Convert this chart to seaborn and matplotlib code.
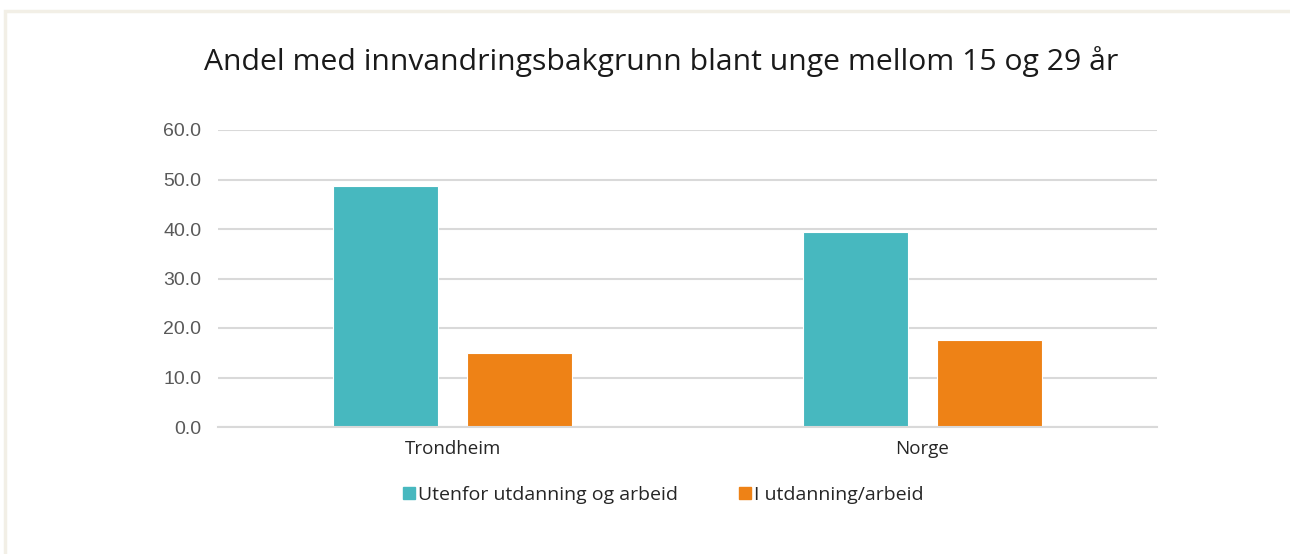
import matplotlib
matplotlib.use("Agg")
import matplotlib.pyplot as plt
import seaborn as sns
import pandas as pd
from matplotlib.patches import Rectangle
from matplotlib.lines import Line2D

categories = ["Trondheim", "Norge"]
series_names = ["Utenfor utdanning og arbeid", "I utdanning/arbeid"]
utenfor = [48.7, 39.4]
i_utdanning = [14.9, 17.6]
yticks = [0, 10, 20, 30, 40, 50, 60]
title = "Andel med innvandringsbakgrunn blant unge mellom 15 og 29 år"
colors = ["#47B8BF", "#EE8216"]

df = pd.DataFrame({
    "kategori": categories * 2,
    "serie": [series_names[0]] * 2 + [series_names[1]] * 2,
    "verdi": utenfor + i_utdanning,
})

sns.set_theme(style="white")
plt.rcParams["font.family"] = ["Open Sans", "DejaVu Sans"]

fig = plt.figure(figsize=(12.9, 5.54), dpi=100)
ax = fig.add_axes([218/1290, 1 - 427/554, (1157-218)/1290, (427-130)/554])

sns.barplot(data=df, x="kategori", y="verdi", hue="serie", palette=colors,
            width=0.57, gap=0.217, ax=ax, legend=False, saturation=1, linewidth=0.8)

ax.set_ylim(0, 60)
ax.set_xlim(-0.5, 1.5)
ax.set_yticks(yticks)
ax.set_yticklabels([f"{v:.1f}" for v in yticks], fontsize=14, color="#595959",
                   family=["Liberation Sans", "DejaVu Sans"])
ax.tick_params(axis="x", labelsize=13.5, colors="#262626", length=0, pad=9)
ax.tick_params(axis="y", length=0, pad=12)
ax.set_xlabel("")
ax.set_ylabel("")
ax.yaxis.grid(True, color="#D9D9D9", linewidth=1.5)
ax.set_axisbelow(True)
for s in ["top", "right", "left"]:
    ax.spines[s].set_visible(False)
ax.spines["bottom"].set_color("#D9D9D9")
ax.spines["bottom"].set_linewidth(1.5)

fig.text(661/1290, 1 - 62/554, title, ha="center", va="center", fontsize=21.7, color="#1a1a1a")

handles = [Line2D([0], [0], marker="s", linestyle="none", markersize=8.5,
                  markerfacecolor=c, markeredgecolor=c) for c in colors]
fig.legend(handles, series_names, loc="center", bbox_to_anchor=(662/1290, 1 - 495/554),
           ncol=2, frameon=False, fontsize=14, handletextpad=0.0, columnspacing=3.0,
           handlelength=0.9, labelcolor="#262626")

fig.patches.append(Rectangle((5/1290, -0.1), 1.2, 1 - 11/554 + 0.1, transform=fig.transFigure,
                             fill=False, edgecolor="#F2EFE6", linewidth=2.5))

fig.savefig("out.png", dpi=100)
